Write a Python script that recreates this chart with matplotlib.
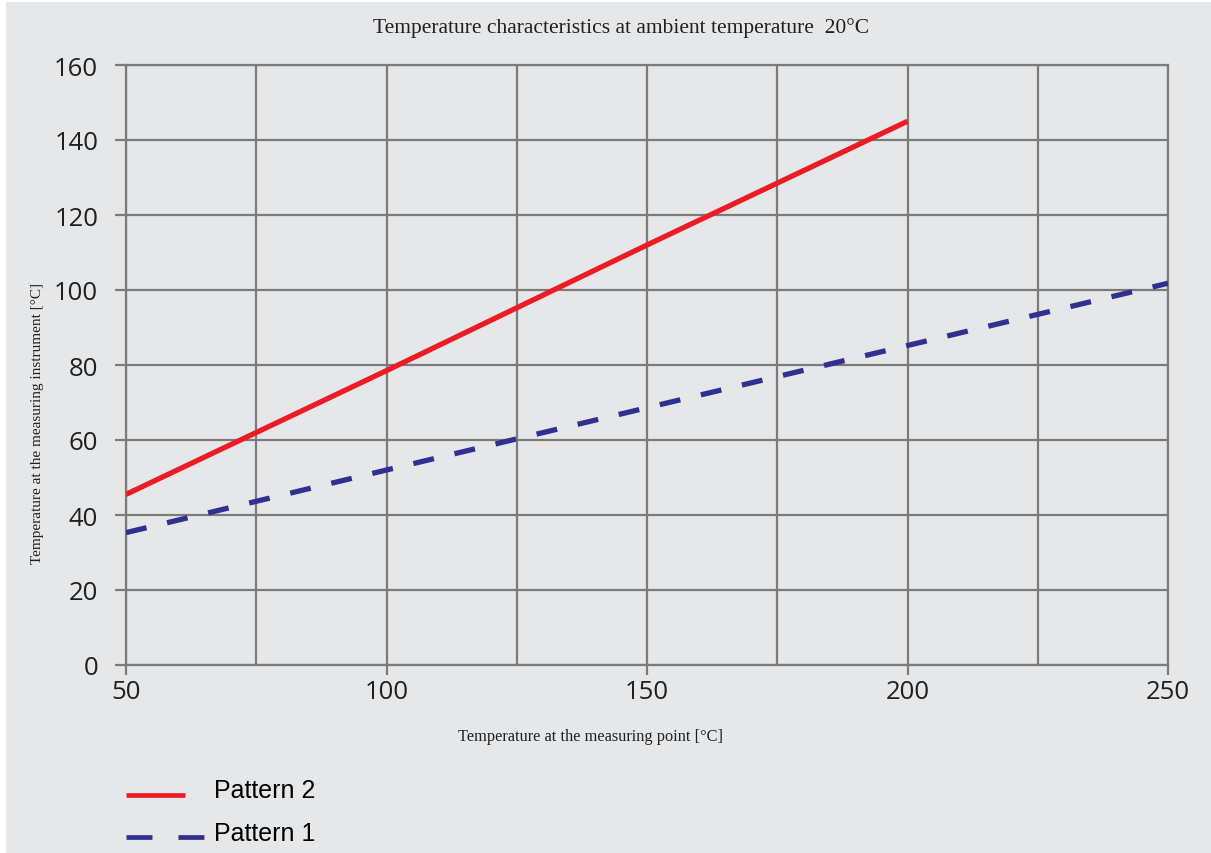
import numpy as np
import matplotlib.pyplot as plt
from matplotlib.patches import Rectangle
from matplotlib.lines import Line2D
from matplotlib.legend_handler import HandlerLine2D

# data
x_p2 = [50, 100, 150, 200]
y_p2 = [45.5, 78.5, 112.0, 145.0]
x_p1 = [50, 100, 150, 200, 250]
y_p1 = [35.3, 52.0, 68.6, 85.2, 101.8]

x_major = [50, 100, 150, 200, 250]
x_minor = [75, 125, 175, 225]
y_ticks = [0, 20, 40, 60, 80, 100, 120, 140, 160]

bg = '#e6e7e9'
grid_c = '#7b7b7b'
txt_c = '#231f20'
red = '#ed1c24'
blue = '#2e3192'


class ShortLine(HandlerLine2D):
    """legend handle drawn shorter and a bit lower than the default"""
    def __init__(self, frac=1.0, drop=0.0, **kw):
        super().__init__(**kw)
        self.frac = frac
        self.drop = drop

    def create_artists(self, legend, orig_handle, xdescent, ydescent,
                       width, height, fontsize, trans):
        return super().create_artists(legend, orig_handle, xdescent,
                                      ydescent + self.drop, width * self.frac,
                                      height, fontsize, trans)


fig = plt.figure(figsize=(12.11, 8.54), dpi=100, facecolor='white')
# grey panel (thin white strip on the left / top of the original)
fig.add_artist(Rectangle((6 / 1211, 0), 1, 1 - 3 / 854, transform=fig.transFigure,
                         facecolor=bg, edgecolor='none', zorder=-10))

ax = fig.add_axes([126 / 1211, 188 / 854, 1042 / 1211, 600 / 854])
ax.set_facecolor(bg)

ax.plot(x_p2, y_p2, color=red, lw=3.8, solid_capstyle='butt', zorder=3)
ax.plot(x_p1, y_p1, color=blue, lw=3.8, dashes=(4, 4), dash_capstyle='butt', zorder=3)

ax.set_xlim(50, 250)
ax.set_ylim(0, 160)
ax.set_xticks(x_major)
ax.set_xticks(x_minor, minor=True)
ax.set_yticks(y_ticks)

ax.grid(True, which='both', color=grid_c, lw=1.6)
ax.set_axisbelow(True)
for s in ax.spines.values():
    s.set_color(grid_c)
    s.set_linewidth(1.6)

ax.tick_params(axis='x', which='major', length=7, width=1.6, color=grid_c, pad=3)
ax.tick_params(axis='x', which='minor', length=0)
ax.tick_params(axis='y', length=8, width=1.6, color=grid_c, pad=12)
for lab in ax.get_xticklabels() + ax.get_yticklabels():
    lab.set_fontfamily('Open Sans')
    lab.set_fontsize(18.5)
    lab.set_color(txt_c)

serif = ['Liberation Serif', 'DejaVu Serif']
fig.text(621 / 1211, 1 - 28 / 854, 'Temperature characteristics at ambient temperature  20°C',
         ha='center', va='center', family=serif, fontsize=15.5, color=txt_c)
fig.text(590 / 1211, 1 - 737 / 854, 'Temperature at the measuring point [°C]',
         ha='center', va='center', family=serif, fontsize=11.8, color=txt_c)
fig.text(38 / 1211, 1 - 424 / 854, 'Temperature at the measuring instrument [°C]',
         ha='center', va='center', rotation=90, family=serif, fontsize=11, color=txt_c)

# legend: Pattern 2 first, shorter red handle
h_p2 = Line2D([], [], color=red, lw=3.4, solid_capstyle='butt')
h_p1 = Line2D([], [], color=blue, lw=3.4, dashes=(5.5, 5.5), dash_capstyle='butt')
fig.legend([h_p2, h_p1], ['Pattern 2', 'Pattern 1'], loc='upper left',
           bbox_to_anchor=(126 / 1211, 1 - 779 / 854),
           frameon=False, borderpad=0, borderaxespad=0, handlelength=3.1,
           handletextpad=0.4, labelspacing=0.75,
           handler_map={h_p2: ShortLine(frac=59 / 77, drop=9),
                        h_p1: ShortLine(frac=1.0, drop=9)},
           prop=dict(family=['Liberation Sans'], size=18))

fig.savefig('out.png', dpi=100, facecolor=fig.get_facecolor())
